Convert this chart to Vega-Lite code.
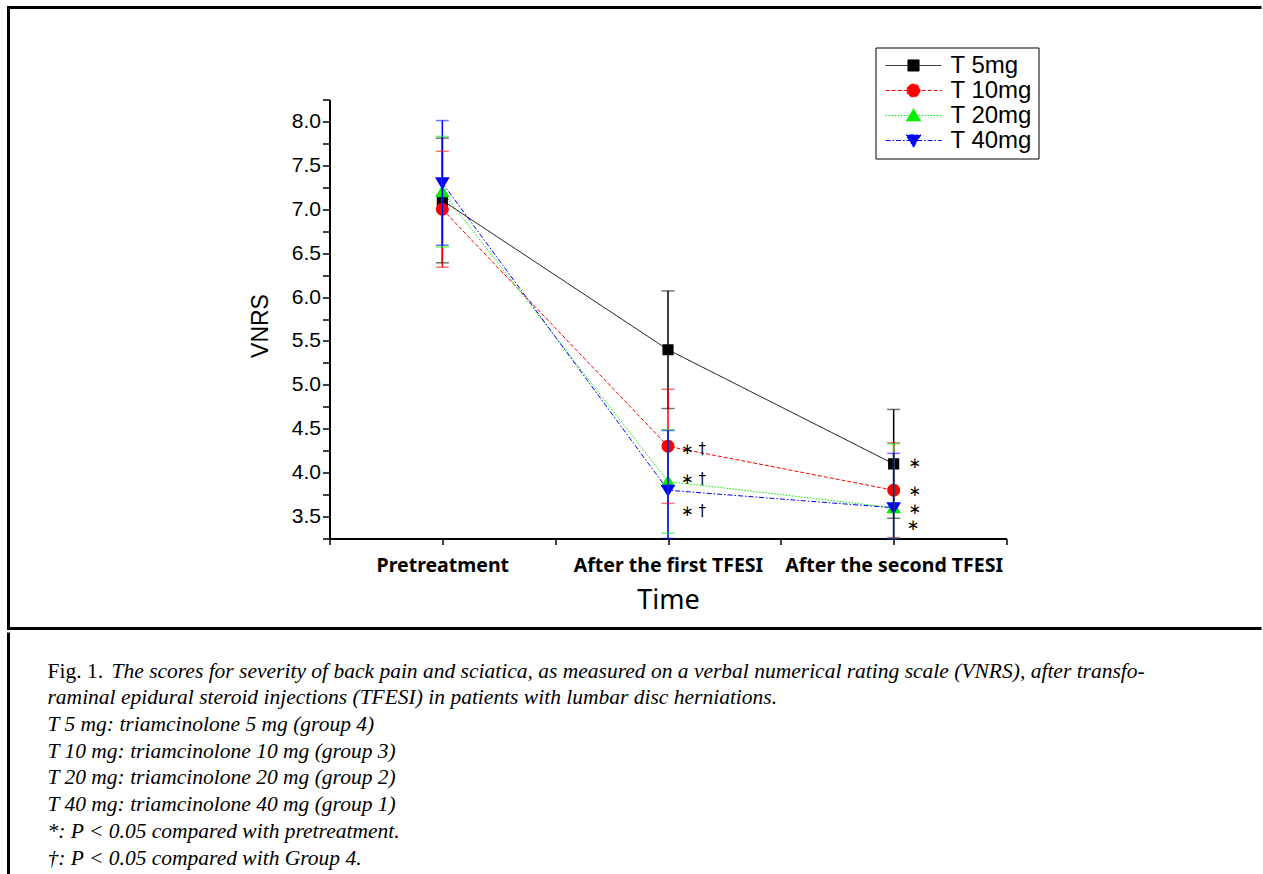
{
  "$schema": "https://vega.github.io/schema/vega-lite/v6.json",
  "padding": {"left": 6.5, "top": 5.5, "right": 0, "bottom": 0},
  "background": "white",
  "spacing": 0,
  "config": {"axis": {"grid": false}, "legend": {"labelColor": "black"}},
  "datasets": {
    "vnrs": [
      {"series": "T 5mg", "t": 1, "mean": 7.1, "lo": 6.39, "hi": 7.81},
      {"series": "T 5mg", "t": 2, "mean": 5.4, "lo": 4.73, "hi": 6.07},
      {"series": "T 5mg", "t": 3, "mean": 4.1, "lo": 3.48, "hi": 4.72},
      {"series": "T 10mg", "t": 1, "mean": 7.0, "lo": 6.34, "hi": 7.66},
      {"series": "T 10mg", "t": 2, "mean": 4.3, "lo": 3.65, "hi": 4.95},
      {"series": "T 10mg", "t": 3, "mean": 3.8, "lo": 3.26, "hi": 4.34},
      {"series": "T 20mg", "t": 1, "mean": 7.2, "lo": 6.57, "hi": 7.83},
      {"series": "T 20mg", "t": 2, "mean": 3.9, "lo": 3.31, "hi": 4.49},
      {"series": "T 20mg", "t": 3, "mean": 3.6, "lo": 2.87, "hi": 4.33},
      {"series": "T 40mg", "t": 1, "mean": 7.3, "lo": 6.59, "hi": 8.01},
      {"series": "T 40mg", "t": 2, "mean": 3.8, "lo": 3.12, "hi": 4.48},
      {"series": "T 40mg", "t": 3, "mean": 3.6, "lo": 2.98, "hi": 4.22}
    ],
    "notes": [
      {"t": 2.058, "v": 4.27, "note": "∗ †"},
      {"t": 2.058, "v": 3.93, "note": "∗ †"},
      {"t": 2.058, "v": 3.56, "note": "∗ †"},
      {"t": 3.066, "v": 4.11, "note": "∗"},
      {"t": 3.066, "v": 3.79, "note": "∗"},
      {"t": 3.066, "v": 3.59, "note": "∗"},
      {"t": 3.058, "v": 3.4, "note": "∗"}
    ],
    "caption": [
      {"line": 1, "lead": "Fig. 1.", "text": "The scores for severity of back pain and sciatica, as measured on a verbal numerical rating scale (VNRS), after transfo-"},
      {"line": 2, "lead": "", "text": "raminal epidural steroid injections (TFESI) in patients with lumbar disc herniations."},
      {"line": 3, "lead": "", "text": "T 5 mg: triamcinolone 5 mg (group 4)"},
      {"line": 4, "lead": "", "text": "T 10 mg: triamcinolone 10 mg (group 3)"},
      {"line": 5, "lead": "", "text": "T 20 mg: triamcinolone 20 mg (group 2)"},
      {"line": 6, "lead": "", "text": "T 40 mg: triamcinolone 40 mg (group 1)"},
      {"line": 7, "lead": "", "text": "*:  P < 0.05 compared with pretreatment."},
      {"line": 8, "lead": "", "text": "†:  P < 0.05 compared with Group 4."}
    ]
  },
  "vconcat": [
    {
      "width": 1253,
      "height": 621,
      "view": {"stroke": "black", "strokeWidth": 3, "strokeDash": [1253, 621, 1874]},
      "layer": [
        {
          "data": {"name": "vnrs"},
          "mark": {"type": "line", "strokeWidth": 1},
          "encoding": {
            "x": {
              "field": "t", "type": "quantitative", "title": "Time",
              "scale": {"domain": [0.5, 3.5], "range": [321, 998], "nice": false, "zero": false},
              "axis": {
                "orient": "bottom", "offset": -90, "tickCount": 50,
                "values": [0.5, 1, 1.5, 2, 2.5, 3, 3.5],
                "labelExpr": "datum.value == 1 ? 'Pretreatment' : datum.value == 2 ? 'After the first TFESI' : datum.value == 3 ? 'After the second TFESI' : ''",
                "labelFlush": false, "labelOverlap": false, "labelBound": false, "labelLimit": 0,
                "labelFont": "Noto Sans", "labelFontWeight": "bold", "labelFontSize": 19.5, "labelColor": "black", "labelPadding": 12,
                "tickSize": 6, "tickWidth": 1.5, "tickColor": "black",
                "domainWidth": 2, "domainColor": "black",
                "title": "Time", "titleFont": "Noto Sans", "titleFontWeight": "normal", "titleFontSize": 27, "titleColor": "black",
                "titleBaseline": "alphabetic", "titleY": 70
              }
            },
            "y": {
              "field": "mean", "type": "quantitative", "title": "VNRS",
              "scale": {"domain": [3.25, 8.25], "range": [531, 92], "nice": false, "zero": false, "clamp": true},
              "axis": {
                "orient": "left", "offset": -321, "tickCount": 50,
                "values": [3.25, 3.5, 3.75, 4, 4.25, 4.5, 4.75, 5, 5.25, 5.5, 5.75, 6, 6.25, 6.5, 6.75, 7, 7.25, 7.5, 7.75, 8, 8.25],
                "format": ".1f",
                "labelExpr": "round(datum.value * 4) % 2 == 0 ? datum.label : ''",
                "labelOverlap": false, "labelBound": false, "labelFlush": false,
                "labelFont": "Liberation Sans", "labelFontSize": 21, "labelColor": "black", "labelPadding": 2,
                "tickSize": 7, "tickWidth": 1.5, "tickColor": "black",
                "domainWidth": 2, "domainColor": "black",
                "title": "VNRS", "titleFont": "Liberation Sans", "titleFontWeight": "normal", "titleFontSize": 23, "titleColor": "black",
                "titleX": -62, "titleY": 318, "titleBaseline": "alphabetic", "titleAlign": "center"
              }
            },
            "color": {
              "field": "series", "type": "nominal",
              "scale": {"domain": ["T 5mg", "T 10mg", "T 20mg", "T 40mg"], "range": ["#000000", "#ff0000", "#00ee00", "#0000ff"]},
              "legend": {
                "orient": "none", "legendX": 867, "legendY": 40,
                "title": null, "direction": "vertical",
                "strokeColor": "black", "fillColor": "white", "padding": 6, "rowPadding": 1,
                "symbolSize": 324, "symbolOffset": 20, "labelOffset": 25, "symbolStrokeWidth": 1,
                "labelFont": "Liberation Sans", "labelFontSize": 24, "labelColor": "black"
              }
            },
            "strokeDash": {
              "field": "series", "type": "nominal",
              "scale": {"domain": ["T 5mg", "T 10mg", "T 20mg", "T 40mg"], "range": [[1, 0], [4, 2], [1.5, 1.5], [5, 2, 1.5, 2]]},
              "legend": {
                "orient": "none", "legendX": 867, "legendY": 40,
                "title": null, "direction": "vertical",
                "strokeColor": "black", "fillColor": "white", "padding": 6, "rowPadding": 1,
                "symbolSize": 324, "symbolOffset": 20, "labelOffset": 25, "symbolStrokeWidth": 1,
                "labelFont": "Liberation Sans", "labelFontSize": 24, "labelColor": "black"
              }
            }
          }
        },
        {
          "data": {"name": "vnrs"},
          "mark": {"type": "point", "filled": true, "opacity": 1, "size": 324},
          "encoding": {
            "x": {"field": "t", "type": "quantitative", "title": "Time"},
            "y": {"field": "mean", "type": "quantitative", "title": "VNRS"},
            "color": {"field": "series", "type": "nominal"},
            "shape": {
              "field": "series", "type": "nominal",
              "scale": {
                "domain": ["T 5mg", "T 10mg", "T 20mg", "T 40mg"],
                "range": [
                  "M-3.1,0H3.1M-0.62,-0.62H0.62V0.62H-0.62Z",
                  "M-3.1,0H3.1M-0.72,0A0.72,0.72,0,1,0,0.72,0A0.72,0.72,0,1,0,-0.72,0Z",
                  "M-3.1,0H3.1M0,-0.75L0.82,0.62L-0.82,0.62Z",
                  "M-3.1,0H3.1M0,0.75L0.82,-0.62L-0.82,-0.62Z"
                ]
              },
              "legend": null
            }
          }
        },
        {
          "data": {"name": "vnrs"},
          "mark": {"type": "rule", "strokeWidth": 1.5},
          "encoding": {
            "x": {"field": "t", "type": "quantitative", "title": "Time"},
            "y": {"field": "lo", "type": "quantitative", "title": "VNRS"},
            "y2": {"field": "hi"},
            "color": {"field": "series", "type": "nominal"}
          }
        },
        {
          "data": {"name": "vnrs"},
          "mark": {"type": "tick", "orient": "horizontal", "size": 13, "thickness": 1.5, "opacity": 0.55},
          "encoding": {
            "x": {"field": "t", "type": "quantitative", "title": "Time"},
            "y": {"field": "lo", "type": "quantitative", "title": "VNRS"},
            "color": {"field": "series", "type": "nominal"}
          }
        },
        {
          "data": {"name": "vnrs"},
          "mark": {"type": "tick", "orient": "horizontal", "size": 13, "thickness": 1.5, "opacity": 0.55},
          "encoding": {
            "x": {"field": "t", "type": "quantitative", "title": "Time"},
            "y": {"field": "hi", "type": "quantitative", "title": "VNRS"},
            "color": {"field": "series", "type": "nominal"}
          }
        },
        {
          "data": {"name": "notes"},
          "mark": {"type": "text", "align": "left", "baseline": "middle", "font": "DejaVu Sans", "fontSize": 15, "color": "black"},
          "encoding": {
            "x": {"field": "t", "type": "quantitative", "title": "Time"},
            "y": {"field": "v", "type": "quantitative", "title": "VNRS"},
            "text": {"field": "note"}
          }
        }
      ]
    },
    {
      "width": 1253,
      "height": 243,
      "view": {"stroke": "black", "strokeWidth": 3, "strokeDash": [0, 2749, 243]},
      "data": {"name": "caption"},
      "encoding": {
        "y": {"field": "line", "type": "ordinal", "scale": {"type": "point", "range": [45, 232], "padding": 0}, "axis": null},
        "x": {"datum": 0, "type": "quantitative", "scale": {"domain": [0, 1], "range": [39, 1200]}, "axis": null}
      },
      "layer": [
        {
          "transform": [{"filter": "datum.line == 1"}],
          "mark": {"type": "text", "align": "left", "baseline": "alphabetic", "font": "Liberation Serif", "fontSize": 21.5, "color": "black"},
          "encoding": {"text": {"field": "lead"}}
        },
        {
          "transform": [{"filter": "datum.line == 1"}],
          "mark": {"type": "text", "align": "left", "baseline": "alphabetic", "font": "Liberation Serif", "fontSize": 21.5, "fontStyle": "italic", "color": "black", "dx": 64},
          "encoding": {"text": {"field": "text"}}
        },
        {
          "transform": [{"filter": "datum.line > 1"}],
          "mark": {"type": "text", "align": "left", "baseline": "alphabetic", "font": "Liberation Serif", "fontSize": 21.5, "fontStyle": "italic", "color": "black"},
          "encoding": {"text": {"field": "text"}}
        }
      ]
    }
  ]
}
